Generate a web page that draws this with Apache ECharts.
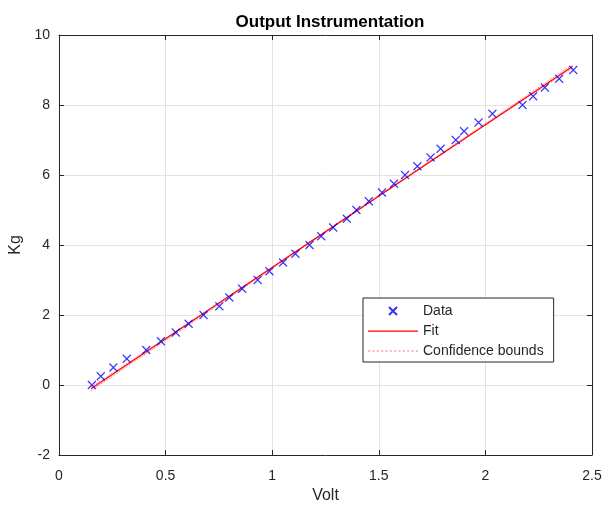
<!DOCTYPE html>
<html>
<head>
<meta charset="utf-8">
<script src="https://cdn.jsdelivr.net/npm/echarts@6/dist/echarts.min.js"></script>
<style>
html,body{margin:0;padding:0;background:#fff;}
#chart{width:605px;height:505px;}
</style>
</head>
<body>
<div id="chart"></div>
<script>
// Data
var voltData = [0.154, 0.196, 0.255, 0.318, 0.409, 0.478, 0.548, 0.608, 0.678, 0.752,
  0.799, 0.859, 0.932, 0.987, 1.051, 1.109, 1.175, 1.230, 1.286, 1.350,
  1.395, 1.453, 1.515, 1.571, 1.623, 1.681, 1.743, 1.790, 1.861, 1.900,
  1.968, 2.033, 2.174, 2.224, 2.279, 2.346, 2.412];
var kgData = [0, 0.25, 0.5, 0.75, 1.0, 1.25, 1.5, 1.75, 2.0, 2.25,
  2.5, 2.75, 3.0, 3.25, 3.5, 3.75, 4.0, 4.25, 4.5, 4.75,
  5.0, 5.25, 5.5, 5.75, 6.0, 6.25, 6.5, 6.75, 7.0, 7.25,
  7.5, 7.75, 8.0, 8.25, 8.5, 8.75, 9.0];
var fitX = [0.15, 2.41];
var fitY = [-0.11, 9.11];
var boundX = [0.15, 0.7, 1.28, 1.85, 2.41];
var boundUpper = [-0.06, 2.15, 4.52, 6.86, 9.16];
var boundLower = [-0.16, 2.09, 4.48, 6.82, 9.06];
var xTicks = [0, 0.5, 1, 1.5, 2, 2.5];
var yTicks = [-2, 0, 2, 4, 6, 8, 10];
var titleText = 'Output Instrumentation';
var xName = 'Volt';
var yName = 'Kg';
var legendNames = ['Data', 'Fit', 'Confidence bounds'];

function zip(a, b) { return a.map(function (v, i) { return [v, b[i]]; }); }

var FONT = '"Liberation Sans", Arial, Helvetica, sans-serif';
var AX = '#262626';
var chart = echarts.init(document.getElementById('chart'), null, {renderer: 'canvas'});

var commonX = {
  type: 'value', min: xTicks[0], max: xTicks[xTicks.length - 1], interval: 0.5,
  axisLine: {show: true, onZero: false, lineStyle: {color: AX, width: 1}},
  axisTick: {show: true, inside: true, length: 5, lineStyle: {color: AX}}
};
var commonY = {
  type: 'value', min: yTicks[0], max: yTicks[yTicks.length - 1], interval: 2,
  axisLine: {show: true, onZero: false, lineStyle: {color: AX, width: 1}},
  axisTick: {show: true, inside: true, length: 5, lineStyle: {color: AX}}
};

var dotted = 'path://';
for (var i = 0; i < 12; i++) { dotted += 'M' + (i * 4) + ',0h2v1h-2z'; }

var option = {
  backgroundColor: '#fff',
  animation: false,
  title: {
    text: titleText, left: 325, top: 9, textAlign: 'center',
    textStyle: {fontFamily: FONT, fontSize: 17, fontWeight: 'bold', color: '#000'}
  },
  grid: {left: 59, right: 13, top: 35, bottom: 50, containLabel: false, outerBoundsMode: 'none'},
  legend: {
    orient: 'vertical', left: 363, top: 298,
    data: [
      {name: legendNames[0]},
      {name: legendNames[1], icon: 'path://M0,0H48V1.2H0Z'},
      {name: legendNames[2], icon: dotted}
    ],
    itemWidth: 50, itemHeight: 8, itemGap: 6,
    padding: [6, 10, 4, 5],
    borderColor: '#262626', borderWidth: 1, backgroundColor: '#fff',
    textStyle: {fontFamily: FONT, fontSize: 14, color: '#262626'}
  },
  xAxis: [
    Object.assign({}, commonX, {
      position: 'bottom', name: xName, nameLocation: 'middle', nameGap: 32,
      nameTextStyle: {fontFamily: FONT, fontSize: 16, color: AX},
      axisLabel: {fontFamily: FONT, fontSize: 14, color: AX, margin: 14},
      splitLine: {show: true, lineStyle: {color: '#e3e3e3', width: 1}}
    }),
    Object.assign({}, commonX, {
      position: 'top', axisLabel: {show: false}, splitLine: {show: false}
    })
  ],
  yAxis: [
    Object.assign({}, commonY, {
      position: 'left', name: yName, nameLocation: 'middle', nameGap: 31,
      nameTextStyle: {fontFamily: FONT, fontSize: 16, color: AX},
      axisLabel: {fontFamily: FONT, fontSize: 14, color: AX, margin: 9},
      splitLine: {show: true, lineStyle: {color: '#e3e3e3', width: 1}}
    }),
    Object.assign({}, commonY, {
      position: 'right', axisLabel: {show: false}, splitLine: {show: false}
    })
  ],
  series: [
    {
      name: legendNames[2], type: 'line', symbol: 'none', z: 2,
      data: zip(boundX, boundUpper), smooth: true,
      lineStyle: {color: '#ff7070', width: 1, type: 'dotted'}, itemStyle: {color: '#ff7070'}
    },
    {
      name: legendNames[2], type: 'line', symbol: 'none', z: 2,
      data: zip(boundX, boundLower), smooth: true,
      lineStyle: {color: '#ff7070', width: 1, type: 'dotted'}, itemStyle: {color: '#ff7070'}
    },
    {
      name: legendNames[1], type: 'line', symbol: 'none', z: 3,
      data: zip(fitX, fitY),
      lineStyle: {color: '#ff0000', width: 1.2}, itemStyle: {color: '#ff0000'}
    },
    {
      name: legendNames[0], type: 'scatter', z: 4,
      data: zip(voltData, kgData),
      symbol: 'path://M0,0L10,10M10,0L0,10', symbolSize: 8, symbolKeepAspect: true,
      itemStyle: {color: 'rgba(0,0,0,0)', borderColor: '#0000ff', borderWidth: 1.1}
    }
  ]
};
chart.setOption(option);
</script>
</body>
</html>
